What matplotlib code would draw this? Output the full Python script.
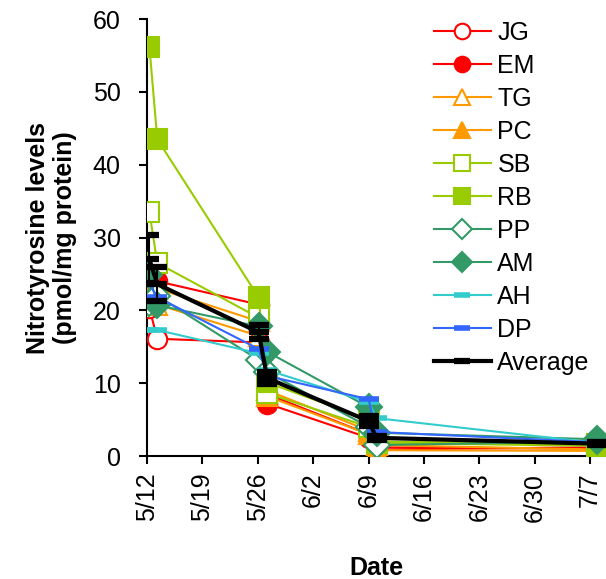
import matplotlib.pyplot as plt
from matplotlib.lines import Line2D

plt.rcParams['font.family'] = ['Liberation Sans', 'DejaVu Sans']

# sampling days, counted from 5/12
days = [0.3, 1.3, 14.1, 15.2, 28.0, 29.0, 56.8]

tick_days = [0, 7, 14, 21, 28, 35, 42, 49, 56]
tick_labels = ['5/12', '5/19', '5/26', '6/2', '6/9', '6/16', '6/23', '6/30', '7/7']

jg = [20.3, 16.1, 15.6, 8.5, 3.0, 1.2, 1.0]
em = [24.2, 24.0, 20.8, 7.2, 2.5, 0.9, 1.2]
tg = [21.5, 20.8, 16.5, 9.0, 3.5, 1.5, 0.9]
pc = [22.4, 23.0, 18.5, 8.2, 3.0, 0.8, 0.7]
sb = [33.5, 26.5, 19.0, 8.6, 4.0, 1.8, 1.4]
rb = [56.2, 43.5, 21.8, 10.1, 5.0, 2.0, 1.6]
pp = [21.0, 22.0, 13.2, 11.5, 4.0, 1.5, 2.0]
am = [24.9, 20.7, 17.8, 14.3, 6.7, 3.2, 2.3]
ah = [17.3, 17.3, 14.1, 11.8, 7.4, 5.2, 1.8]
dp = [23.6, 21.8, 14.7, 11.0, 7.8, 3.3, 1.9]
average = [27.0, 23.6, 17.0, 10.7, 4.8, 2.5, 1.7]
average_err = [3.3, 2.3, 1.0, 0.8, 0.7, 0.3, 0.2]

red = '#FF0000'
orange = '#FF9900'
lime = '#99CC00'
green = '#339966'
cyan = '#33CCCC'
blue = '#3366FF'

series = [
    ('JG', jg, red, 'o', False),
    ('EM', em, red, 'o', True),
    ('TG', tg, orange, '^', False),
    ('PC', pc, orange, '^', True),
    ('SB', sb, lime, 's', False),
    ('RB', rb, lime, 's', True),
    ('PP', pp, green, 'D', False),
    ('AM', am, green, 'D', True),
]

FS = 18

fig = plt.figure(figsize=(6.06, 5.79), dpi=100)
ax = fig.add_axes([0.2426, 0.2124, 0.7574, 0.7547])

for name, vals, col, mk, filled in series:
    ax.plot(days, vals, color=col, lw=1.5, marker=mk, ms=14 if mk != 'D' else 13,
            mfc=col if filled else 'white', mec=col, mew=1.5, label=name)

for name, vals, col in [('AH', ah, cyan), ('DP', dp, blue)]:
    ax.plot(days, vals, color=col, lw=1.5, marker='_', ms=14, mew=4, label=name)

ax.errorbar(days, average, yerr=average_err, color='black', lw=3, marker='_',
            ms=15, mew=4.5, elinewidth=1.5, capsize=7, capthick=1.5)

ax.set_xlim(0, 58)
ax.set_ylim(0, 60)
ax.set_xticks(tick_days)
ax.set_xticklabels(tick_labels, rotation=90)
ax.set_yticks(range(0, 61, 10))
ax.tick_params(labelsize=FS, width=1.5, length=6, direction='out', colors='black')
ax.tick_params(axis='y', pad=13)
ax.tick_params(axis='x', pad=6)
for side in ['top', 'right']:
    ax.spines[side].set_visible(False)
for side in ['left', 'bottom']:
    ax.spines[side].set_linewidth(1.5)
    ax.spines[side].set_zorder(0)

ax.set_ylabel('Nitrotyrosine levels\n(pmol/mg protein)', fontsize=FS,
              fontweight='bold', labelpad=11)
ax.set_xlabel('Date', fontsize=FS, fontweight='bold', labelpad=25)

handles, labels = ax.get_legend_handles_labels()
handles.append(Line2D([], [], color='black', lw=3, marker='_', ms=15, mew=4.5))
labels.append('Average')
ax.legend(handles, labels, loc='upper left', bbox_to_anchor=(0.695, 0.985),
          bbox_transform=fig.transFigure, frameon=False, fontsize=FS,
          markerscale=0.8, handlelength=2.3, handletextpad=0.25,
          labelspacing=0.36, borderpad=0)

fig.savefig('out.png', dpi=100)
